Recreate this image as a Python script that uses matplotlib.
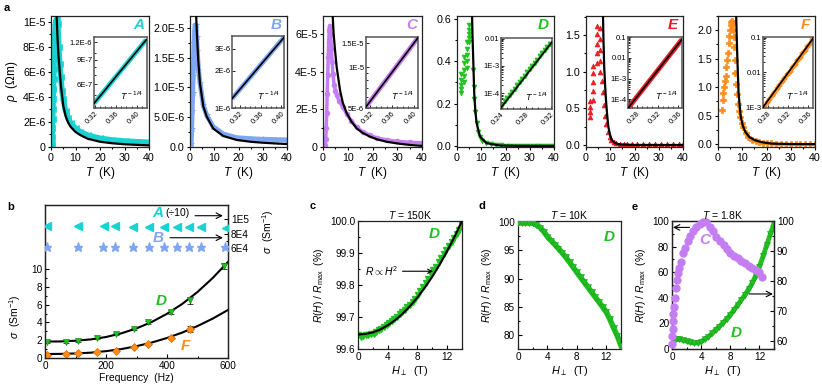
import matplotlib
matplotlib.use("Agg")
import matplotlib.pyplot as plt
import numpy as np
from matplotlib.ticker import FixedLocator, NullFormatter, LogLocator, MultipleLocator

plt.rcParams['font.family'] = ['Liberation Sans', 'DejaVu Sans']
plt.rcParams['mathtext.fontset'] = 'custom'
plt.rcParams['mathtext.rm'] = 'Liberation Sans'
plt.rcParams['mathtext.it'] = 'Liberation Sans:italic'
plt.rcParams['mathtext.bf'] = 'Liberation Sans:bold'
plt.rcParams['axes.linewidth'] = 0.9
plt.rcParams['axes.edgecolor'] = '#222222'

CYAN = '#19d3d3'
BLUE = '#7ea6f4'
PURPLE = '#c47ef2'
GREEN = '#22c022'
RED = '#ec1c24'
ORANGE = '#ff8c1a'

# ---- panel a: resistivity vs T (rho in units shown by tick labels) ----
A_T = [0.4, 0.5, 0.6, 0.7, 0.8, 0.9, 1.0, 1.1, 1.2, 1.3, 1.4, 1.5, 1.6, 1.8, 2.0, 2.2, 2.5, 2.8,
       3.2, 3.6, 4.0, 4.5, 5.0, 6.0, 7.0, 8.0, 10, 12, 15, 20, 25, 30, 35, 40]
A_rho = [0.2, 0.8, 1.5, 2.2, 3.0, 3.8, 4.6, 5.4, 6.2, 7.0, 7.8, 8.5, 9.2, 9.8, 10.1, 10.2, 10.2, 9.8,
         8.0, 6.6, 5.6, 4.5, 3.8, 2.85, 2.3, 1.95, 1.5, 1.22, 0.95, 0.7, 0.56, 0.48, 0.42, 0.38]
A_fit_T = [2.0, 2.3, 2.6, 3.0, 3.5, 4.0, 5.0, 6.0, 7.0, 8.0, 10, 12, 15, 20, 25, 30, 35, 40]
A_fit = [13.0, 10.5, 9.0, 7.5, 6.2, 5.0, 3.3, 2.45, 1.95, 1.62, 1.2, 0.95, 0.66, 0.42, 0.30, 0.22, 0.17, 0.13]

B_T = [0.5, 0.7, 0.9, 1.1, 1.3, 1.5, 1.7, 1.9, 2.1, 2.4, 2.7, 3.0, 3.5, 4.1, 5.5, 6.9, 9.6, 13.7,
       19.3, 25, 30, 35, 40]
B_rho = [0.05, 0.3, 0.6, 0.9, 1.2, 1.5, 1.75, 1.95, 2.05, 2.05, 1.85, 1.62, 1.3, 1.08, 0.7, 0.53,
         0.34, 0.22, 0.156, 0.14, 0.13, 0.125, 0.12]
B_fit_T = [2.2, 2.5, 2.8, 3.1, 3.4, 4.1, 5.5, 6.9, 9.6, 13.7, 19.3, 25, 30, 35, 40]
B_fit = [2.8, 2.25, 1.95, 1.7, 1.46, 1.07, 0.68, 0.51, 0.31, 0.185, 0.118, 0.088, 0.072, 0.06, 0.05]

C_T = [0.9, 1.1, 1.3, 1.5, 1.7, 1.9, 2.1, 2.3, 2.5, 2.7, 2.9, 3.1, 3.4, 3.7, 4.0, 4.5, 5.0, 5.5,
       6.5, 8, 9.6, 11.5, 13.6, 16, 19, 22, 25.7, 30, 35, 40]
C_rho = [0.1, 0.4, 1.0, 1.8, 2.8, 3.8, 4.8, 5.6, 6.2, 6.45, 6.4, 6.0, 5.2, 4.5, 3.9, 3.3, 3.0, 2.75,
         2.45, 2.1, 1.75, 1.38, 1.05, 0.82, 0.62, 0.48, 0.38, 0.3, 0.25, 0.22]
C_fit_T = [3.5, 3.9, 4.3, 4.85, 5.5, 6.9, 8, 9.6, 11.5, 13.6, 16, 19, 22, 25.7, 30, 35, 40]
C_fit = [8.5, 7.0, 6.0, 5.16, 4.27, 3.0, 2.35, 1.79, 1.35, 0.99, 0.75, 0.55, 0.4, 0.28, 0.19, 0.11, 0.06]

D_T = [1.5, 1.5, 1.5, 1.5, 1.5, 2.9, 2.9, 2.9, 2.9, 2.9, 4.0, 4.0, 4.0, 4.0, 4.0, 5.1, 5.1, 5.1, 5.1, 5.1,
       6.6, 6.9, 7.2, 7.6, 8.1, 8.8, 9.5, 10.5, 12, 14, 16, 18, 20, 22, 24, 26, 28, 30, 32, 34, 36, 38, 40]
D_rho = [0.25, 0.27, 0.29, 0.31, 0.34, 0.30, 0.33, 0.36, 0.39, 0.42, 0.37, 0.40, 0.43, 0.46, 0.49,
         0.49, 0.51, 0.53, 0.55, 0.57, 0.36, 0.28, 0.22, 0.16, 0.11, 0.065, 0.042, 0.025, 0.013, 0.007,
         0.004, 0.003, 0.002, 0.002, 0.002, 0.002, 0.002, 0.002, 0.002, 0.002, 0.002, 0.002, 0.002]
D_fit_T = [6.0, 6.2, 6.4, 6.7, 7.1, 7.6, 8.1, 9.5, 12.2, 17.7, 25, 40]
D_fit = [0.8, 0.62, 0.52, 0.406, 0.25, 0.16, 0.107, 0.044, 0.013, 0.002, 0.0005, 0.0]

E_T = [1.65, 1.65, 1.65, 1.65, 3.0, 3.0, 3.0, 3.0, 3.0, 4.4, 4.4, 4.4, 4.4, 4.4, 5.8, 5.8, 5.8, 5.8, 5.8,
       6.7, 7.0, 7.4, 7.9, 8.4, 9.0, 9.7, 10.5, 11.5, 12.5, 14, 15.5, 17, 19, 21, 23.5, 26, 28.5, 31,
       33.5, 36, 38.5, 40]
E_rho = [0.38, 0.45, 0.52, 0.60, 0.62, 0.74, 0.86, 0.98, 1.08, 1.12, 1.25, 1.38, 1.51, 1.63,
         1.60, 1.45, 1.30, 1.15, 1.0, 0.88, 0.72, 0.55, 0.4, 0.28, 0.18, 0.11, 0.07, 0.045, 0.03,
         0.02, 0.02, 0.02, 0.02, 0.02, 0.02, 0.02, 0.02, 0.02, 0.02, 0.02, 0.02, 0.02]
E_fit_T = [6.8, 7.0, 7.2, 7.5, 7.9, 8.25, 8.7, 9.2, 9.9, 10.6, 12, 14, 20, 40]
E_fit = [2.1, 1.78, 1.45, 1.07, 0.8, 0.61, 0.42, 0.25, 0.14, 0.068, 0.025, 0.008, 0.001, 0]

F_T = [1.6, 1.9, 2.2, 2.5, 2.8, 3.1, 3.5, 3.8, 4.1, 4.4, 4.7, 5.0, 5.2, 5.5, 5.8, 6.1, 6.3, 6.5, 6.7,
       6.9, 7.2, 7.4, 7.8, 8.2, 8.7, 9.2, 9.8, 10.5, 11.5, 12.5, 14, 15.5, 17, 18.5, 20, 22, 24, 26,
       28, 30, 32, 34, 36, 38, 40]
F_rho = [0.6, 0.78, 0.9, 1.0, 1.1, 1.2, 1.35, 1.47, 1.6, 1.77, 1.9, 2.0, 2.1, 2.15, 2.17, 2.12, 2.0,
         1.88, 1.7, 1.47, 1.25, 1.06, 0.88, 0.71, 0.58, 0.48, 0.38, 0.3, 0.2, 0.13, 0.08, 0.05, 0.035,
         0.025, 0.02, 0.015, 0.01, 0.01, 0.01, 0.01, 0.01, 0.01, 0.01, 0.01, 0.01]
F_fit_T = [7.2, 7.5, 7.8, 8.1, 8.5, 9.0, 9.4, 10.2, 11.2, 13, 15.2, 18, 22, 30, 40]
F_fit = [3.0, 2.26, 1.75, 1.36, 0.89, 0.65, 0.48, 0.33, 0.22, 0.12, 0.07, 0.035, 0.01, 0.002, 0]

# insets: log(rho) vs T^-1/4
A_in_x = [0.318, 0.34, 0.36, 0.38, 0.40, 0.418]
A_in_y = [4.37e-7, 5.5e-7, 6.8e-7, 8.38e-7, 1.034e-6, 1.25e-6]
B_in_x = [0.305, 0.33, 0.355, 0.38, 0.405]
B_in_y = [1.19e-6, 1.58e-6, 2.1e-6, 2.79e-6, 3.7e-6]
C_in_x = [0.312, 0.336, 0.36, 0.384, 0.408]
C_in_y = [5.1e-6, 6.84e-6, 9.17e-6, 1.23e-5, 1.65e-5]
D_in_x = [0.242, 0.246, 0.250, 0.254, 0.258, 0.262, 0.266, 0.270, 0.274, 0.278,
          0.282, 0.286, 0.290, 0.294, 0.298, 0.302, 0.306, 0.310, 0.314, 0.318]
D_in_y = [3.9e-5, 5.1e-5, 6.7e-5, 8.8e-5, 1.15e-4, 1.51e-4, 1.98e-4, 2.59e-4, 3.39e-4, 4.44e-4,
          5.82e-4, 7.6e-4, 9.97e-4, 1.31e-3, 1.71e-3, 2.24e-3, 2.94e-3, 3.85e-3, 5.04e-3, 6.6e-3]
D_in_fx = [0.24, 0.2605, 0.281, 0.3015, 0.322]
D_in_fy = [3.0e-5, 1.19e-4, 4.75e-4, 1.89e-3, 7.5e-3]
E_in_x = [0.263, 0.289, 0.315, 0.341, 0.367]
E_in_y = [3.7e-5, 2.5e-4, 1.69e-3, 1.14e-2, 7.7e-2]
F_in_x = [0.273, 0.278, 0.283, 0.288, 0.293, 0.298, 0.303, 0.308, 0.313, 0.318,
          0.323, 0.328, 0.333, 0.338, 0.343, 0.348, 0.353, 0.358, 0.363, 0.368]
F_in_y = [1.12e-3, 1.41e-3, 1.78e-3, 2.24e-3, 2.82e-3, 3.55e-3, 4.47e-3, 5.62e-3, 7.08e-3, 8.91e-3,
          1.12e-2, 1.41e-2, 1.78e-2, 2.24e-2, 2.82e-2, 3.55e-2, 4.47e-2, 5.62e-2, 7.08e-2, 8.91e-2]
F_in_fx = [0.2705, 0.2953, 0.32, 0.3448, 0.3695]
F_in_fy = [1e-3, 3.12e-3, 9.74e-3, 3.04e-2, 9.5e-2]

# ---- panel b: sigma vs frequency ----
b_freq = [5, 69, 109, 169, 232, 292, 339, 413, 475, 587]
b_D = [1.76, 1.76, 1.95, 2.2, 2.7, 3.3, 4.0, 5.2, 6.5, 10.3]
b_D_err = [0.1, 0.1, 0.1, 0.1, 0.1, 0.12, 0.15, 0.2, 0.4, 0.35]
b_F = [0.37, 0.45, 0.56, 0.67, 0.82, 1.2, 1.6, 2.24, 3.25]
b_F_err = [0.05, 0.05, 0.05, 0.05, 0.08, 0.1, 0.12, 0.15, 0.35]
b_fit_f = [0, 50, 100, 150, 200, 250, 300, 350, 400, 450, 500, 550, 600]
b_fit_D = [1.85, 1.86, 1.94, 2.09, 2.36, 2.77, 3.33, 4.05, 4.97, 6.08, 7.42, 9.0, 10.8]
b_fit_F = [0.45, 0.46, 0.51, 0.60, 0.77, 1.0, 1.33, 1.74, 2.25, 2.86, 3.59, 4.43, 5.40]
b_A_freq = [5, 107, 193, 229, 289, 341, 390, 432, 472, 511, 595]
b_A_div10 = [9.0e4, 9.05e4, 9.0e4, 9.0e4, 8.95e4, 8.9e4, 8.85e4, 8.85e4, 8.85e4, 8.85e4, 8.75e4]
b_B_freq = [8, 109, 191, 229, 289, 341, 390, 432, 472, 511, 590]
b_B = [6.1e4] * 11

# ---- panels c, d, e: magnetoresistance ----
c_H = [0.0, 0.35, 0.7, 1.05, 1.4, 1.75, 2.1, 2.45, 2.8, 3.15, 3.5, 3.85, 4.2, 4.55, 4.9, 5.25, 5.6,
       5.95, 6.3, 6.65, 7.0, 7.35, 7.7, 8.05, 8.4, 8.75, 9.1, 9.45, 9.8, 10.15, 10.5, 10.85, 11.2,
       11.55, 11.9, 12.25, 12.6, 12.95, 13.3, 13.65, 14.0]
c_R = [99.643, 99.638, 99.641, 99.644, 99.643, 99.646, 99.648, 99.652, 99.658, 99.664, 99.668,
       99.676, 99.682, 99.686, 99.693, 99.701, 99.708, 99.715, 99.722, 99.731, 99.738, 99.748,
       99.757, 99.768, 99.781, 99.793, 99.806, 99.819, 99.833, 99.846, 99.857, 99.871, 99.883,
       99.896, 99.909, 99.921, 99.934, 99.946, 99.958, 99.972, 99.986]
c_fit_H = [0, 1, 2, 3, 4, 5, 6, 7, 8, 9, 10, 11, 12, 13, 14]
c_fit_R = [99.645, 99.647, 99.652, 99.661, 99.674, 99.690, 99.710, 99.734, 99.761, 99.792,
           99.826, 99.864, 99.906, 99.951, 100.0]

d_H = [0, 0.5, 1, 1.5, 2, 2.5, 3, 3.5, 4, 4.5, 5, 5.5, 6, 6.5, 7, 7.5, 8, 8.5, 9, 9.5, 10, 10.5,
       11, 11.5, 12, 12.5, 13, 13.5, 14]
d_R = [99.8, 99.8, 99.8, 99.8, 99.75, 99.5, 99.0, 98.3, 97.4, 96.7, 96.0, 95.3, 94.55, 93.75, 92.9,
       92.0, 91.1, 90.2, 89.35, 88.5, 87.6, 86.75, 85.9, 85.0, 84.1, 82.8, 81.3, 79.9, 78.2]

e_C_H = [0.03, 0.06, 0.1, 0.15, 0.2, 0.3, 0.4, 0.55, 0.7, 0.85, 1.0, 1.2, 1.5, 1.8, 2.2, 2.5, 2.9,
         3.3, 3.8, 4.2, 4.7, 5.2, 5.6, 6.1, 6.6, 7.1, 7.5, 8.0, 8.5, 9.0, 9.5, 10.0, 10.5, 11.0,
         11.5, 11.9, 12.3]
e_C = [4, 10, 16, 22, 27, 33, 40, 48, 54, 59, 63, 68, 75, 79, 84, 88, 92, 95, 98, 99.5, 99.5, 95.6,
       92, 87.8, 84.3, 81, 78.5, 75, 73, 71, 69, 67, 65, 63, 61.5, 60, 56.5]
e_D_H = d_H
e_D = [60.6, 60.6, 60.5, 60.2, 59.9, 59.5, 59.3, 59.4, 59.8, 60.5, 61.4, 62.5, 63.7, 64.8, 66.0,
       67.3, 68.7, 70.3, 72.0, 73.6, 75.3, 77.2, 79.2, 81.8, 84.8, 88.2, 92.0, 95.6, 99.2]

W, H = 822, 391
fig = plt.figure(figsize=(W / 100, H / 100), dpi=100)


def rect(l, t, r, b):
    return [l / W, 1 - b / H, (r - l) / W, (b - t) / H]


def rho_panel(box, T, rho, fT, frho, color, marker, ms, lw, ylim, yticks, ylabels, letter):
    ax = fig.add_axes(rect(*box))
    ax.plot(T, rho, color=color, lw=lw, ls='-' if lw > 0 else 'none', marker=marker, ms=ms,
            mec=color, mew=0.5, zorder=2)
    ax.plot(fT, frho, color='k', lw=1.6, zorder=3)
    ax.set_xlim(0, 40)
    ax.set_ylim(*ylim)
    ax.set_xticks([0, 10, 20, 30, 40])
    ax.set_yticks(yticks)
    ax.set_yticklabels(ylabels)
    ax.xaxis.set_minor_locator(MultipleLocator(5))
    ax.yaxis.set_minor_locator(MultipleLocator((yticks[1] - yticks[0]) / 2))
    ax.tick_params(which='both', direction='out', labelsize=7.7, pad=1.5, width=0.8)
    ax.tick_params(which='major', length=2.5)
    ax.tick_params(which='minor', length=1.5)
    ax.set_xlabel(r'$T$  (K)', fontsize=8.5, labelpad=1.5)
    ax.text(0.95, 0.93, letter, transform=ax.transAxes, ha='right', va='center', color=color,
            fontsize=11, fontweight='bold', style='italic')
    return ax


def inset(box, x, y, color, xlim, ylim, xticks, yticks, ylabels, mx=None, my=None, marker=None):
    ax = fig.add_axes(rect(*box))
    ax.set_yscale('log')
    if marker is None:
        ax.plot(x, y, color=color, lw=3.5, solid_capstyle='butt', zorder=2)
    else:
        ax.plot(mx, my, ls='none', marker=marker, ms=3.2, color=color, mec=color, zorder=2)
    ax.plot(x, y, color='k', lw=1.2, zorder=3)
    ax.set_xlim(*xlim)
    ax.set_ylim(*ylim)
    ax.xaxis.set_major_locator(FixedLocator(xticks))
    ax.set_xticklabels(['%.2f' % v for v in xticks], rotation=45, ha='right',
                       rotation_mode='anchor')
    ax.yaxis.set_major_locator(FixedLocator(yticks))
    ax.yaxis.set_minor_locator(LogLocator(base=10, subs=np.arange(1, 10)))
    ax.yaxis.set_minor_formatter(NullFormatter())
    ax.set_yticklabels(ylabels)
    ax.xaxis.set_minor_locator(MultipleLocator(0.01))
    ax.tick_params(which='both', direction='in', labelsize=5.5, pad=1.2, width=0.6)
    ax.tick_params(which='major', length=2.2)
    ax.tick_params(which='minor', length=1.2)
    for s in ax.spines.values():
        s.set_linewidth(1.1)
        s.set_color('#555555')
    ax.text(0.93, 0.08, r'$T^{\,-1/4}$', transform=ax.transAxes, ha='right', va='bottom',
            fontsize=6.5)
    return ax


axA = rho_panel((51, 16, 149, 147), A_T, A_rho, A_fit_T, A_fit, CYAN, '<', 4, 4, (0, 10.48),
                [0, 2, 4, 6, 8, 10], ['0', '2E-6', '4E-6', '6E-6', '8E-6', '1E-5'], 'A')
axA.set_ylabel(r'$\rho$  ($\Omega$m)', fontsize=8.5, labelpad=2)
rho_panel((190, 16, 287, 147), B_T, B_rho, B_fit_T, B_fit, BLUE, '*', 4, 3.5, (0, 2.2),
          [0, 0.5, 1.0, 1.5, 2.0], ['0.0', '5.0E-6', '1.0E-5', '1.5E-5', '2.0E-5'], 'B')
rho_panel((323, 16, 422, 147), C_T, C_rho, C_fit_T, C_fit, PURPLE, 'o', 3.5, 2.5, (0, 6.96),
          [0, 2, 4, 6], ['0', '2E-5', '4E-5', '6E-5'], 'C')
rho_panel((457, 16, 554, 147), D_T, D_rho, D_fit_T, D_fit, GREEN, 'v', 3.5, 0, (-0.005, 0.614),
          [0, 0.2, 0.4, 0.6], ['0.0', '0.2', '0.4', '0.6'], 'D')
rho_panel((586, 16, 683, 147), E_T, E_rho, E_fit_T, E_fit, RED, '^', 3.5, 0, (-0.027, 1.76),
          [0, 0.5, 1.0, 1.5], ['0.0', '0.5', '1.0', '1.5'], 'E')
rho_panel((718, 16, 815, 147), F_T, F_rho, F_fit_T, F_fit, ORANGE, 'P', 4, 0, (-0.05, 2.25),
          [0, 0.5, 1.0, 1.5, 2.0], ['0.0', '0.5', '1.0', '1.5', '2.0'], 'F')

inset((94, 37, 147, 108), A_in_x, A_in_y, CYAN, (0.318, 0.4196), (4.05e-7, 1.31e-6),
      [0.32, 0.36, 0.40], [6e-7, 9e-7, 1.2e-6], ['6E-7', '9E-7', '1.2E-6'])
inset((232, 36, 284, 108), B_in_x, B_in_y, BLUE, (0.305, 0.405), (1e-6, 3.8e-6),
      [0.32, 0.36, 0.40], [1e-6, 2e-6, 3e-6], ['1E-6', '2E-6', '3E-6'])
inset((366, 37, 418, 108), C_in_x, C_in_y, PURPLE, (0.312, 0.408), (5e-6, 1.67e-5),
      [0.32, 0.36, 0.40], [5e-6, 1e-5, 1.5e-5], ['5E-6', '1E-5', '1.5E-5'])
inset((501, 38, 552, 109), D_in_fx, D_in_fy, GREEN, (0.24, 0.322), (2.7e-5, 1.05e-2),
      [0.24, 0.28, 0.32], [1e-4, 1e-3, 1e-2], ['1E-4', '1E-3', '0.01'],
      mx=D_in_x, my=D_in_y, marker='v')
inset((628, 37, 682, 108), E_in_x, E_in_y, RED, (0.263, 0.367), (3.8e-5, 0.1),
      [0.28, 0.32, 0.36], [1e-4, 1e-3, 1e-2, 1e-1], ['1E-4', '1E-3', '0.01', '0.1'])
inset((763, 37, 813, 108), F_in_fx, F_in_fy, ORANGE, (0.2705, 0.3695), (9.5e-4, 0.105),
      [0.28, 0.32, 0.36], [1e-3, 1e-2, 1e-1], ['1E-3', '0.01', '0.1'],
      mx=F_in_x, my=F_in_y, marker='P')


def small_ticks(ax):
    ax.tick_params(which='both', direction='in', labelsize=7.2, pad=2, width=0.8)
    ax.tick_params(which='major', length=2.8)
    ax.tick_params(which='minor', length=1.6)


# panel b
axb = fig.add_axes(rect(45, 205, 228, 358))
axb.errorbar(b_freq, b_D, yerr=b_D_err, fmt='v', color=GREEN, ms=5, mec='#129012', mew=0.5,
             ecolor='k', elinewidth=0.8, capsize=2.2, capthick=0.8, zorder=3)
axb.errorbar(b_freq[:len(b_F)], b_F, yerr=b_F_err, fmt='D', color=ORANGE, ms=4, mec='#d96a00',
             mew=0.5, ecolor='k', elinewidth=0.8, capsize=2.2, capthick=0.8, zorder=3)
axb.plot(b_fit_f, b_fit_D, color='k', lw=1.5, zorder=2)
axb.plot(b_fit_f, b_fit_F, color='k', lw=1.5, zorder=2)
axb.set_xlim(0, 600)
axb.set_ylim(0, 17.2)
axb.set_xticks([0, 200, 400, 600])
axb.set_yticks([0, 2, 4, 6, 8, 10])
axb.xaxis.set_minor_locator(MultipleLocator(100))
axb.yaxis.set_minor_locator(FixedLocator([1, 3, 5, 7, 9]))
small_ticks(axb)
axb.set_xlabel('Frequency  (Hz)', fontsize=7.5, labelpad=1.5)
axb.set_ylabel(r'$\sigma$  (Sm$^{-1}$)', fontsize=7.5)
axb.yaxis.set_label_coords(-0.12, 0.27)
axr = axb.twinx()
axr.plot(b_A_freq, b_A_div10, ls='none', marker='<', ms=5.5, color=CYAN, zorder=3)
axr.plot(b_B_freq, b_B, ls='none', marker='*', ms=6.5, color=BLUE, zorder=3)
axr.set_ylim(-9.53e4, 1.2014e5)
axr.set_yticks([6e4, 8e4, 1e5])
axr.set_yticklabels(['6E4', '8E4', '1E5'])
axr.yaxis.set_minor_locator(FixedLocator([7e4, 9e4]))
small_ticks(axr)
fig.text(268 / W, 1 - 232 / H, r'$\sigma$  (Sm$^{-1}$)', rotation=90, ha='center', va='center',
         fontsize=7.5)
axb.text(0.615, 0.948, 'A', transform=axb.transAxes, ha='center', va='center', color=CYAN,
         fontsize=11, fontweight='bold', style='italic')
axb.text(0.656, 0.945, '(\u00f710)', transform=axb.transAxes, ha='left', va='center',
         fontsize=7.5)
axb.text(0.617, 0.786, 'B', transform=axb.transAxes, ha='center', va='center', color=BLUE,
         fontsize=11, fontweight='bold', style='italic')
axb.text(0.634, 0.375, 'D', transform=axb.transAxes, ha='center', va='center', color=GREEN,
         fontsize=11, fontweight='bold', style='italic')
axb.text(0.765, 0.08, 'F', transform=axb.transAxes, ha='center', va='center', color=ORANGE,
         fontsize=11, fontweight='bold', style='italic')
for y0, x0 in [(0.93, 0.82), (0.786, 0.683)]:
    axb.annotate('', xy=(0.972, y0), xytext=(x0, y0), xycoords='axes fraction',
                 arrowprops=dict(arrowstyle='->', color='k', lw=0.8, shrinkA=0, shrinkB=0))


def mr_axes(box, title):
    ax = fig.add_axes(rect(*box))
    ax.set_xlim(0, 14)
    ax.set_xticks([0, 4, 8, 12])
    ax.xaxis.set_minor_locator(MultipleLocator(2))
    small_ticks(ax)
    ax.set_xlabel(r'$H_{\perp}$  (T)', fontsize=7.8, labelpad=1.5)
    ax.set_ylabel(r'$R(H)$ / $R_{\rm max}$  (%)', fontsize=7.5, labelpad=3)
    ax.set_title(title, fontsize=7.5, pad=1.5)
    return ax


# panel c
axc = mr_axes((358, 221, 462, 349), r'$T$ = 150K')
axc.plot(c_H, c_R, ls='none', marker='v', ms=4.5, color=GREEN, mec=GREEN, zorder=2)
axc.plot(c_fit_H, c_fit_R, color='k', lw=1.5, zorder=3)
axc.set_ylim(99.6, 100.0)
axc.set_yticks([99.6, 99.7, 99.8, 99.9, 100.0])
axc.set_yticklabels(['99.6', '99.7', '99.8', '99.9', '100.0'])
axc.yaxis.set_minor_locator(MultipleLocator(0.05))
axc.text(0.73, 0.9, 'D', transform=axc.transAxes, ha='center', va='center', color=GREEN,
         fontsize=11, fontweight='bold', style='italic')
axc.annotate(r'$R \propto H^2$', xy=(10.1, 99.843), xytext=(1.0, 99.843), fontsize=7.5,
             va='center', ha='left',
             arrowprops=dict(arrowstyle='->', color='k', lw=0.8, shrinkA=1, shrinkB=0))

# panel d
axd = mr_axes((518, 221, 621, 349), r'$T$ = 10K')
axd.plot(d_H, d_R, color=GREEN, lw=4, zorder=2)
axd.plot(d_H, d_R, ls='none', marker='v', ms=4.5, color=GREEN, mec='#17a317', mew=0.4, zorder=3)
axd.set_ylim(77.6, 100.15)
axd.set_yticks([80, 85, 90, 95, 100])
axd.yaxis.set_minor_locator(MultipleLocator(2.5))
axd.text(0.89, 0.877, 'D', transform=axd.transAxes, ha='center', va='center', color=GREEN,
         fontsize=11, fontweight='bold', style='italic')

# panel e
axe = mr_axes((672, 221, 774, 349), r'$T$ = 1.8K')
axe.plot(e_C_H, e_C, ls='none', marker='o', ms=5, color=PURPLE, mec=PURPLE, zorder=3,
         clip_on=False)
axe.set_ylim(0, 100)
axe.set_yticks([0, 20, 40, 60, 80, 100])
axe.yaxis.set_minor_locator(MultipleLocator(10))
axe2 = axe.twinx()
axe2.plot(e_D_H, e_D, color=GREEN, lw=3.5, zorder=2)
axe2.plot(e_D_H, e_D, ls='none', marker='v', ms=4.5, color=GREEN, mec='#17a317', mew=0.4,
          zorder=3)
axe2.set_ylim(57.3, 100)
axe2.set_yticks([60, 70, 80, 90, 100])
axe2.yaxis.set_minor_locator(MultipleLocator(5))
small_ticks(axe2)
axe.set_zorder(axe2.get_zorder() + 1)
axe.patch.set_visible(False)
axe.text(0.32, 0.85, 'C', transform=axe.transAxes, ha='center', va='center', color=PURPLE,
         fontsize=11, fontweight='bold', style='italic')
axe.text(0.634, 0.123, 'D', transform=axe.transAxes, ha='center', va='center', color=GREEN,
         fontsize=11, fontweight='bold', style='italic')
axe.annotate('', xy=(0.14, 95), xytext=(2.4, 95),
             arrowprops=dict(arrowstyle='->', color='k', lw=0.8, shrinkA=0, shrinkB=0))
axe.annotate('', xy=(13.85, 43), xytext=(10.6, 43),
             arrowprops=dict(arrowstyle='->', color='k', lw=0.8, shrinkA=0, shrinkB=0))

for lab, x, y in [('a', 4, 8), ('b', 7, 207), ('c', 310, 206), ('d', 478, 206), ('e', 632, 207)]:
    fig.text(x / W, 1 - y / H, lab, fontsize=8, fontweight='bold', ha='left', va='center')

fig.savefig('out.png', dpi=100)
